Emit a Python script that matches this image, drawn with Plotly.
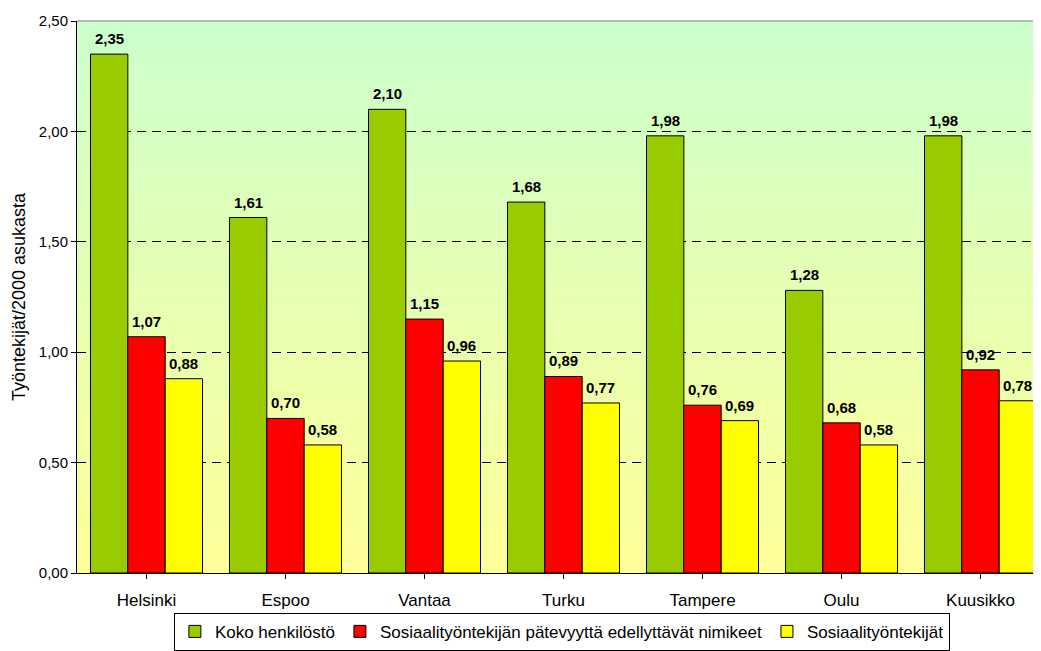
import plotly.graph_objects as go

categories = ["Helsinki", "Espoo", "Vantaa", "Turku", "Tampere", "Oulu", "Kuusikko"]
series_names = ["Koko henkilöstö", "Sosiaalityöntekijän pätevyyttä edellyttävät nimikeet", "Sosiaalityöntekijät"]
koko = [2.35, 1.61, 2.10, 1.68, 1.98, 1.28, 1.98]
patevyys = [1.07, 0.70, 1.15, 0.89, 0.76, 0.68, 0.92]
sosiaali = [0.88, 0.58, 0.96, 0.77, 0.69, 0.58, 0.78]
y_ticks = [0, 0.5, 1.0, 1.5, 2.0, 2.5]

colors = ["#99CC00", "#FF0000", "#FFFF00"]
series = [koko, patevyys, sosiaali]
FONT = "Liberation Sans, Arial, sans-serif"

fig = go.Figure()
idx = list(range(len(categories)))
for name, vals, col in zip(series_names, series, colors):
    fig.add_trace(go.Bar(
        x=idx, y=vals, name=name,
        marker=dict(color=col, line=dict(color="black", width=1)),
    ))

bargap = 0.194
bw = (1 - bargap) / 3
annotations = []
for s, vals in enumerate(series):
    off = (s - 1) * bw
    for i, v in enumerate(vals):
        annotations.append(dict(
            x=i + off, y=v, xref="x", yref="y",
            text="<b>" + f"{v:.2f}".replace(".", ",") + "</b>",
            showarrow=False, yanchor="bottom", yshift=5,
            font=dict(size=15, color="black", family=FONT),
        ))

# gradient background bands
shapes = []
n = 80
c0 = (204, 255, 204)
c1 = (255, 255, 153)
for k in range(n):
    t = k / (n - 1)
    r = round(c0[0] + (c1[0] - c0[0]) * t)
    g = round(c0[1] + (c1[1] - c0[1]) * t)
    b = round(c0[2] + (c1[2] - c0[2]) * t)
    shapes.append(dict(
        type="rect", xref="paper", yref="paper",
        x0=0, x1=1, y0=1 - (k + 1) / n, y1=1 - k / n + 0.001,
        fillcolor=f"rgb({r},{g},{b})", line=dict(width=0), layer="below",
    ))
shapes.append(dict(type="line", xref="paper", yref="paper", x0=0, x1=1, y0=1, y1=1,
                   line=dict(color="#808080", width=1)))

fig.update_layout(
    width=1033, height=643,
    margin=dict(l=69, r=0, t=13, b=78, autoexpand=False),
    paper_bgcolor="white", plot_bgcolor="rgba(0,0,0,0)",
    font=dict(family=FONT, size=17, color="black"),
    barmode="group", bargap=bargap, bargroupgap=0,
    separators=",.",
    shapes=shapes, annotations=annotations,
    showlegend=True,
    legend=dict(orientation="h", x=0.503, xanchor="center", y=-0.141, yanchor="bottom",
                bordercolor="black", borderwidth=1, bgcolor="white",
                font=dict(size=17), itemwidth=30, tracegroupgap=0),
    xaxis=dict(
        tickmode="array", tickvals=idx, ticktext=categories,
        range=[-0.5, 6.435], tickson="boundaries",
        ticks="outside", ticklen=5, tickcolor="black",
        showline=True, linecolor="black", linewidth=1,
        showgrid=False, zeroline=False, tickfont=dict(size=17),
        ticklabelstandoff=7, automargin=False,
    ),
    yaxis=dict(
        range=[0, 2.5], tickvals=y_ticks, tickformat=".2f",
        ticks="outside", ticklen=5, tickcolor="black",
        showline=True, linecolor="black", linewidth=1,
        showgrid=True, gridcolor="black", gridwidth=1, griddash="9px,6px",
        zeroline=False, tickfont=dict(size=15), automargin=False,
        title=dict(text="Työntekijät/2000 asukasta", font=dict(size=18), standoff=8),
    ),
)

fig.write_html("out.html")
